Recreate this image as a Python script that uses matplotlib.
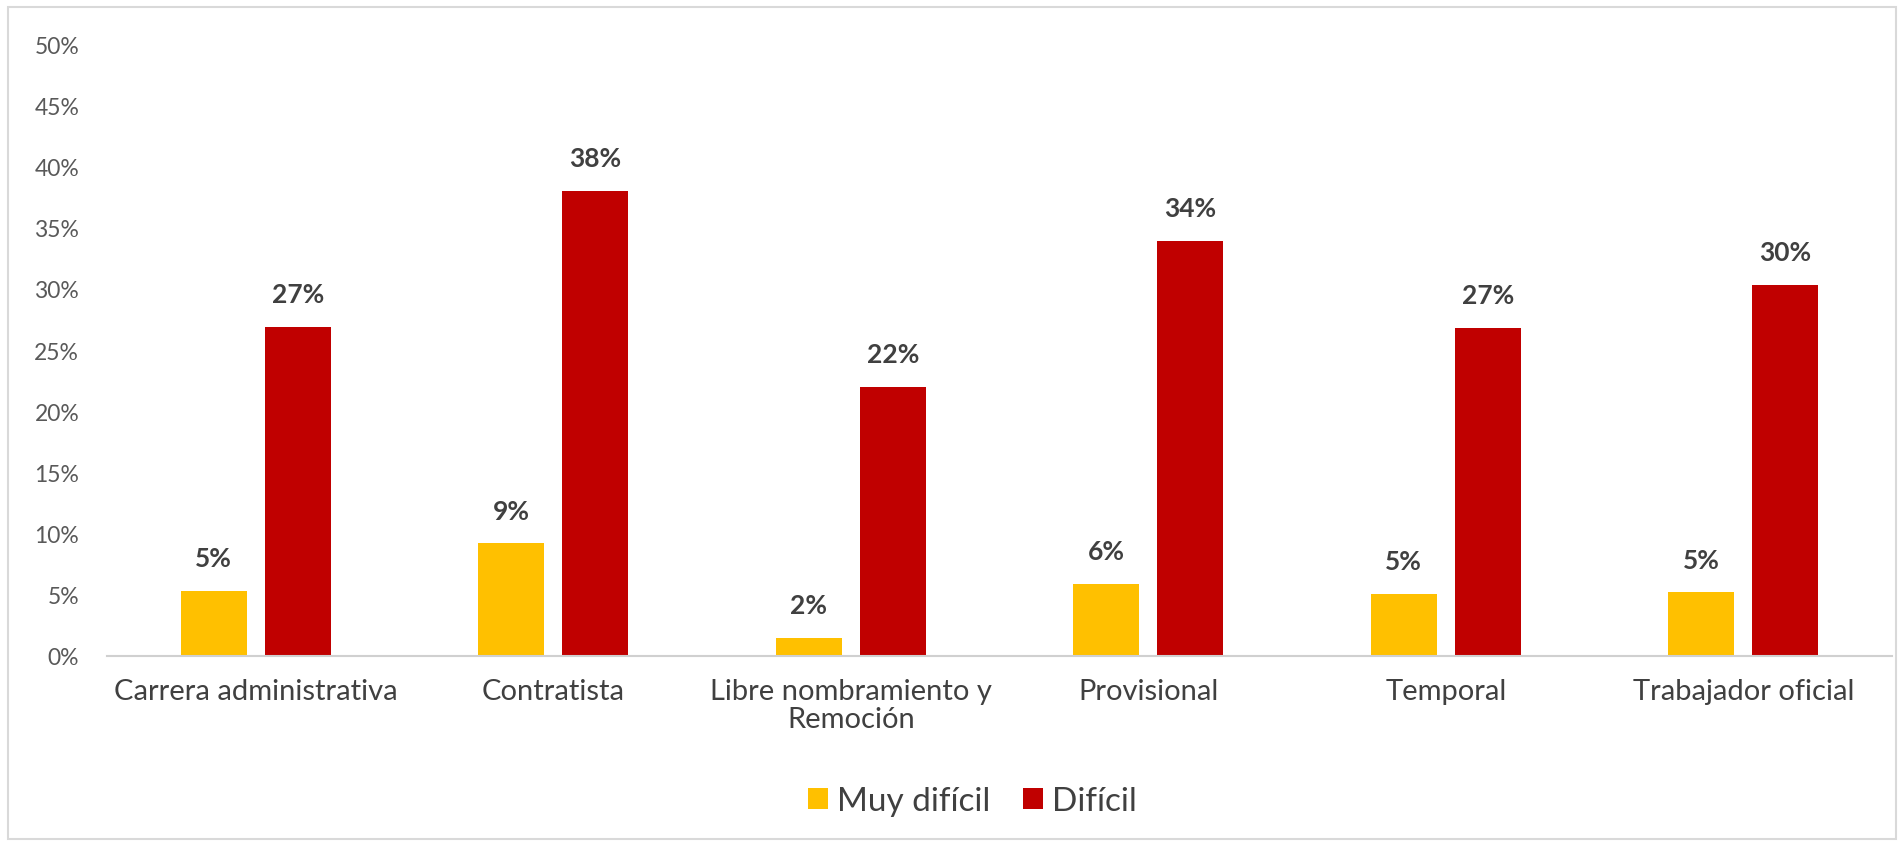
import matplotlib.pyplot as plt
import numpy as np
from matplotlib.patches import Rectangle

categories = ["Carrera administrativa", "Contratista", "Libre nombramiento y\nRemoción",
              "Provisional", "Temporal", "Trabajador oficial"]
muy_dificil = [5.3, 9.2, 1.5, 5.9, 5.1, 5.2]
dificil = [26.9, 38.0, 22.0, 33.9, 26.8, 30.3]
muy_dificil_labels = ["5%", "9%", "2%", "6%", "5%", "5%"]
dificil_labels = ["27%", "38%", "22%", "34%", "27%", "30%"]
series_names = ["Muy difícil", "Difícil"]
y_ticks = [0, 5, 10, 15, 20, 25, 30, 35, 40, 45, 50]

plt.rcParams['font.family'] = ['Lato', 'DejaVu Sans']

fig = plt.figure(figsize=(19.03, 8.45), dpi=100)
fig.patches.append(Rectangle((8 / 1903, 5 / 845), 1888 / 1903, 832 / 845, transform=fig.transFigure,
                             fill=False, edgecolor='#d9d9d9', linewidth=1.5))

ax = fig.add_axes([107 / 1903, 1 - 657 / 845, (1892 - 107) / 1903, (657 - 45) / 845])

x = np.arange(len(categories))
w = 0.222
gap = 0.06
off = (w + gap) / 2
b1 = ax.bar(x - off, muy_dificil, w, color='#FFC000', label=series_names[0])
b2 = ax.bar(x + off, dificil, w, color='#C00000', label=series_names[1])

for bars, labels in [(b1, muy_dificil_labels), (b2, dificil_labels)]:
    for bar, lab in zip(bars, labels):
        ax.annotate(lab, (bar.get_x() + bar.get_width() / 2, bar.get_height()), xytext=(0, 15),
                    textcoords='offset points', ha='center', va='bottom', fontsize=19,
                    fontweight='bold', color='#404040')

ax.set_xlim(-0.5, len(categories) - 0.5)
ax.set_ylim(0, 50)
ax.set_yticks(y_ticks)
ax.set_yticklabels([f"{t}%" for t in y_ticks])
ax.set_xticks(x)
ax.set_xticklabels(categories, fontsize=21, color='#404040', linespacing=1.1)
ax.tick_params(axis='y', length=0, labelsize=16.5, labelcolor='#595959', pad=20)
ax.tick_params(axis='x', length=0, pad=16)

for s in ['top', 'right', 'left']:
    ax.spines[s].set_visible(False)
ax.spines['bottom'].set_color('#d0d0d0')
ax.spines['bottom'].set_linewidth(1.5)

fig.legend(loc='center', bbox_to_anchor=(0.511, 0.051), ncol=2, frameon=False,
           fontsize=24, handlelength=0.6, handleheight=0.6, handletextpad=0.25,
           columnspacing=1.0, labelcolor='#404040')

fig.savefig('out.png', dpi=100, facecolor='white')
